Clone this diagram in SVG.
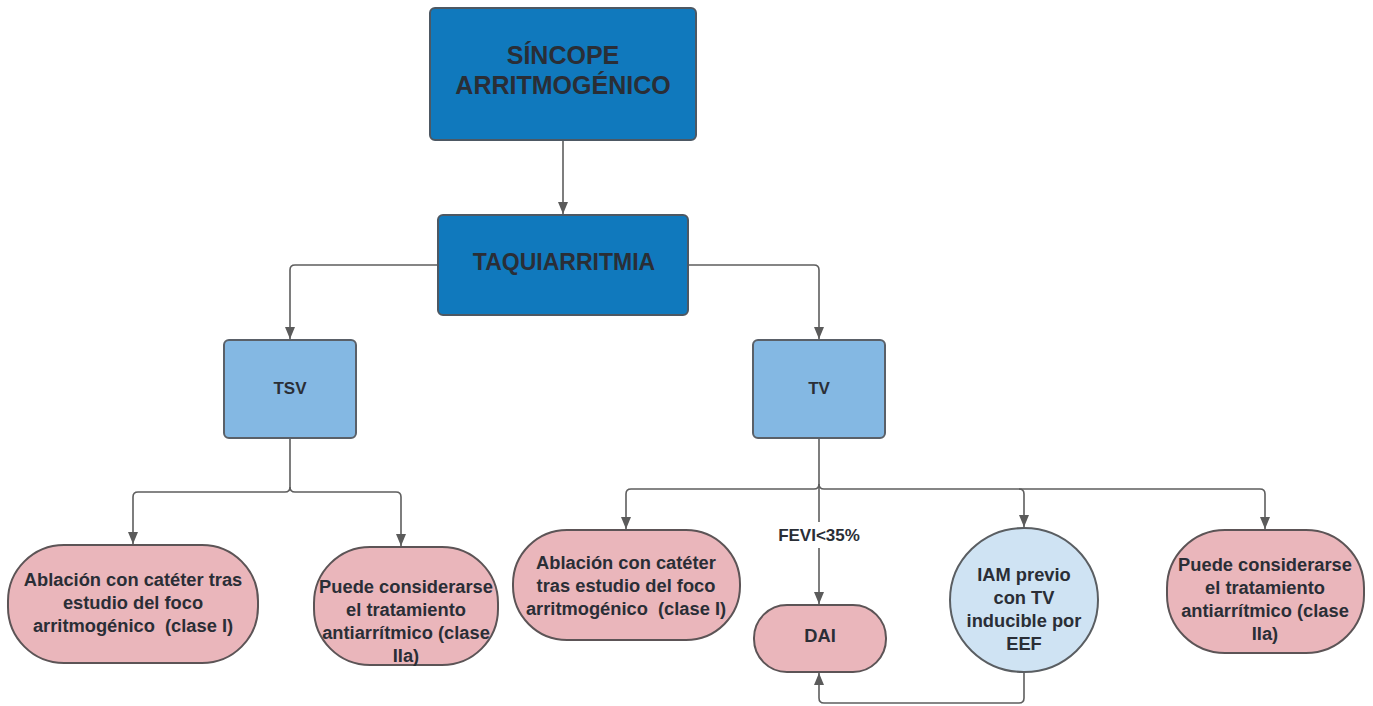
<svg xmlns="http://www.w3.org/2000/svg" width="1373" height="706" viewBox="0 0 1373 706">
  <defs>
    <marker id="arrow" viewBox="0 0 12 10" refX="12" refY="5" markerWidth="12" markerHeight="10" markerUnits="userSpaceOnUse" orient="auto">
      <path d="M0,0 L12,5 L0,10 z" fill="#5b5b5b"/>
    </marker>
    <style>
      .dark { fill: #1079bd; stroke: #4d5863; stroke-width: 2; }
      .light { fill: #84b8e3; stroke: #5a6068; stroke-width: 2; }
      .pink { fill: #eab6bb; stroke: #5c5456; stroke-width: 2; }
      .pale { fill: #cfe3f3; stroke: #5a5e62; stroke-width: 2; }
      .edge { fill: none; stroke: #5e5e5e; stroke-width: 1.6; }
      text { font-family: "Liberation Sans", Arial, sans-serif; font-weight: bold; fill: #2a2e36; text-anchor: middle; white-space: pre; }
      .t25 { font-size: 25px; }
      .t23 { font-size: 23px; }
      .t18 { font-size: 18.3px; }
      .t17 { font-size: 17px; }
    </style>
  </defs>
  <rect width="1373" height="706" fill="#ffffff"/>

  <!-- connectors -->
  <g id="connectors">
    <path class="edge" d="M563,140 V214" marker-end="url(#arrow)"/>
    <path class="edge" d="M438,265 H295 Q290,265 290,270 V339" marker-end="url(#arrow)"/>
    <path class="edge" d="M688,265 H814 Q819,265 819,270 V339" marker-end="url(#arrow)"/>
    <!-- TSV branches -->
    <path class="edge" d="M290,438 V487 Q290,492 285,492 H138 Q133,492 133,497 V544" marker-end="url(#arrow)"/>
    <path class="edge" d="M290,487 Q290,492 295,492 H396 Q401,492 401,497 V546" marker-end="url(#arrow)"/>
    <!-- TV branches -->
    <path class="edge" d="M819,438 V484 Q819,489 814,489 H631 Q626,489 626,494 V529" marker-end="url(#arrow)"/>
    <path class="edge" d="M819,484 Q819,489 824,489 H1019 Q1024,489 1024,494 V527" marker-end="url(#arrow)"/>
    <path class="edge" d="M1019,489 H1260 Q1265,489 1265,494 V529" marker-end="url(#arrow)"/>
    <path class="edge" d="M819,484 V522"/>
    <path class="edge" d="M819,548 V604" marker-end="url(#arrow)"/>
    <text class="t17" x="819" y="541">FEVI&lt;35%</text>
    <!-- feedback from IAM to DAI -->
    <path class="edge" d="M1024,672 V698 Q1024,703 1019,703 H824 Q819,703 819,698 V673" marker-end="url(#arrow)"/>
  </g>

  <g id="sincope">
    <rect class="dark" x="430" y="8" width="266" height="132" rx="5"/>
    <text class="t25" x="563" y="64">SÍNCOPE</text>
    <text class="t25" x="563" y="94">ARRITMOGÉNICO</text>
  </g>

  <g id="taquiarritmia">
    <rect class="dark" x="438" y="215" width="250" height="100" rx="5"/>
    <text class="t23" x="564" y="270">TAQUIARRITMIA</text>
  </g>

  <g id="tsv">
    <rect class="light" x="224" y="340" width="132" height="98" rx="5"/>
    <text class="t17" x="290" y="394">TSV</text>
  </g>

  <g id="tv">
    <rect class="light" x="753" y="340" width="132" height="98" rx="5"/>
    <text class="t17" x="819" y="394">TV</text>
  </g>

  <g id="tsv-ablacion">
    <rect class="pink" x="8" y="545" width="250" height="118" rx="56"/>
    <text class="t18" x="133" y="586">Ablación con catéter tras</text>
    <text class="t18" x="133" y="609">estudio del foco</text>
    <text class="t18" x="133" y="632">arritmogénico  (clase I)</text>
  </g>

  <g id="tsv-antiarritmico">
    <rect class="pink" x="314" y="547" width="184" height="118" rx="56"/>
    <text class="t18" x="406" y="593">Puede considerarse</text>
    <text class="t18" x="406" y="616">el tratamiento</text>
    <text class="t18" x="406" y="639">antiarrítmico (clase</text>
    <text class="t18" x="406" y="662">IIa)</text>
  </g>

  <g id="tv-ablacion">
    <rect class="pink" x="513" y="530" width="227" height="110" rx="54"/>
    <text class="t18" x="626" y="569">Ablación con catéter</text>
    <text class="t18" x="626" y="592">tras estudio del foco</text>
    <text class="t18" x="626" y="615">arritmogénico  (clase I)</text>
  </g>

  <g id="dai">
    <rect class="pink" x="754" y="605" width="132" height="67" rx="33"/>
    <text class="t18" x="820" y="642">DAI</text>
  </g>

  <g id="iam">
    <ellipse class="pale" cx="1024" cy="600" rx="74" ry="72"/>
    <text class="t18" x="1024" y="581">IAM previo</text>
    <text class="t18" x="1024" y="604">con TV</text>
    <text class="t18" x="1024" y="627">inducible por</text>
    <text class="t18" x="1024" y="650">EEF</text>
  </g>

  <g id="tv-antiarritmico">
    <rect class="pink" x="1167" y="530" width="197" height="123" rx="58"/>
    <text class="t18" x="1265" y="571">Puede considerarse</text>
    <text class="t18" x="1265" y="594">el tratamiento</text>
    <text class="t18" x="1265" y="617">antiarrítmico (clase</text>
    <text class="t18" x="1265" y="640">IIa)</text>
  </g>
</svg>
